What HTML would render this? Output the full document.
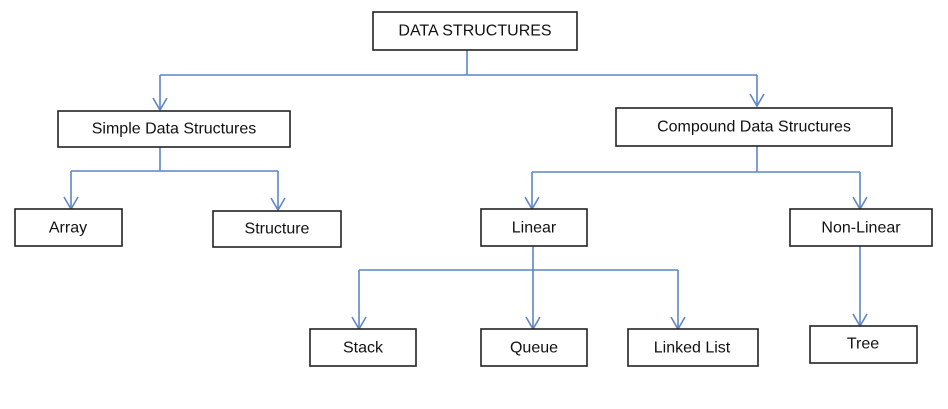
<!DOCTYPE html>
<html><head><meta charset="utf-8"><style>
html,body{margin:0;padding:0;background:#fff;}
svg{display:block;}
text{font-family:"Liberation Sans",sans-serif;font-size:16px;fill:#111;text-anchor:middle;dominant-baseline:central;}
rect{fill:#fff;stroke:#222;stroke-width:1.6;}
.l{fill:none;stroke:#5f86c4;stroke-width:1.6;}
</style></head><body>
<svg width="948" height="409" viewBox="0 0 948 409">
<!-- connectors -->
<path class="l" d="M467 50V75M160 75H757M160 75V110M757 75V106"/>
<path class="l" d="M160 147V171M71 171H278M71 171V209M278 171V210"/>
<path class="l" d="M757 146V172M532 172H860M532 172V209M860 172V209"/>
<path class="l" d="M533 246V329M359 270H678M359 270V329M678 270V329"/>
<path class="l" d="M860 246V326"/>
<!-- arrowheads -->
<g class="l">
<path d="M153 98L160 110L167 98"/>
<path d="M750 94L757 106L764 94"/>
<path d="M64 197L71 209L78 197"/>
<path d="M271 198L278 210L285 198"/>
<path d="M525 197L532 209L539 197"/>
<path d="M853 197L860 209L867 197"/>
<path d="M352 317L359 329L366 317"/>
<path d="M526 317L533 329L540 317"/>
<path d="M671 317L678 329L685 317"/>
<path d="M853 314L860 326L867 314"/>
</g>
<!-- boxes -->
<rect x="373" y="12" width="204" height="38"/><text x="475" y="31">DATA STRUCTURES</text>
<rect x="58" y="111" width="232" height="36"/><text x="174" y="129">Simple Data Structures</text>
<rect x="616" y="108" width="276" height="38"/><text x="754" y="127">Compound Data Structures</text>
<rect x="15" y="209" width="107" height="37"/><text x="68" y="228">Array</text>
<rect x="213" y="211" width="128" height="36"/><text x="277" y="229">Structure</text>
<rect x="481" y="209" width="106" height="37"/><text x="534" y="228">Linear</text>
<rect x="790" y="209" width="142" height="37"/><text x="861" y="228">Non-Linear</text>
<rect x="310" y="329" width="106" height="37"/><text x="363" y="348">Stack</text>
<rect x="481" y="329" width="106" height="37"/><text x="534" y="348">Queue</text>
<rect x="628" y="329" width="130" height="37"/><text x="692" y="348">Linked List</text>
<rect x="810" y="326" width="107" height="37"/><text x="863" y="344">Tree</text>
</svg>
</body></html>
